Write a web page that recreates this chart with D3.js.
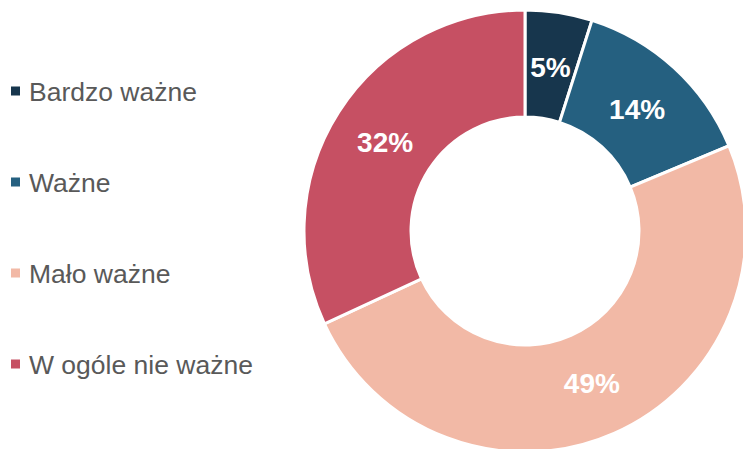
<!DOCTYPE html>
<html>
<head>
<meta charset="utf-8">
<script src="https://cdn.jsdelivr.net/npm/d3@7"></script>
<style>
  body { margin: 0; background: #fff; }
  svg { display: block; font-family: "Liberation Sans", Arial, sans-serif; }
</style>
</head>
<body>
<svg id="chart"></svg>
<script>
// data
let categories = ['Bardzo ważne', 'Ważne', 'Mało ważne', 'W ogóle nie ważne'];
let values = [4.9, 13.8, 49.4, 31.9];
let colors = ['#17364d', '#256080', '#f2b9a6', '#c65063'];

let width = 743, height = 449;
let cx = 525, cy = 231,
    outerR = 221, innerR = 114;

let svg = d3.select('#chart')
            .attr('width', width)
            .attr('height', height);

let color = d3.scaleOrdinal()
              .domain(categories)
              .range(colors);

let pie = d3.pie()
            .sort(null)
            .value(d => d.value);

let arcs = pie(categories.map((c, i) => ({ name: c, value: values[i] })));

let arc = d3.arc()
            .innerRadius(innerR)
            .outerRadius(outerR);

let labelArc = d3.arc()
                 .innerRadius(166)
                 .outerRadius(166);

let g = svg.append('g')
           .attr('transform', `translate(${cx},${cy})`);

g.selectAll('path')
 .data(arcs)
 .enter()
 .append('path')
 .attr('d', arc)
 .attr('fill', d => color(d.data.name))
 .attr('stroke', '#fff')
 .attr('stroke-width', 3);

g.selectAll('text')
 .data(arcs)
 .enter()
 .append('text')
 .attr('transform', d => `translate(${labelArc.centroid(d)})`)
 .attr('text-anchor', 'middle')
 .attr('dy', '0.36em')
 .attr('fill', '#fff')
 .attr('font-weight', 'bold')
 .attr('font-size', 28)
 .text(d => Math.round(d.data.value) + '%');

// legend
let legendY = d3.scalePoint()
                .domain(categories)
                .range([91, 364]);

let legend = svg.selectAll('.legend')
                .data(categories)
                .enter()
                .append('g')
                .attr('class', 'legend')
                .attr('transform', d => `translate(11,${legendY(d)})`);

legend.append('rect')
      .attr('x', 0)
      .attr('y', -4.5)
      .attr('width', 9)
      .attr('height', 9)
      .attr('fill', d => color(d));

legend.append('text')
      .attr('x', 18)
      .attr('dy', '0.36em')
      .attr('fill', '#595959')
      .attr('font-size', 26.5)
      .text(d => d);
</script>
</body>
</html>
